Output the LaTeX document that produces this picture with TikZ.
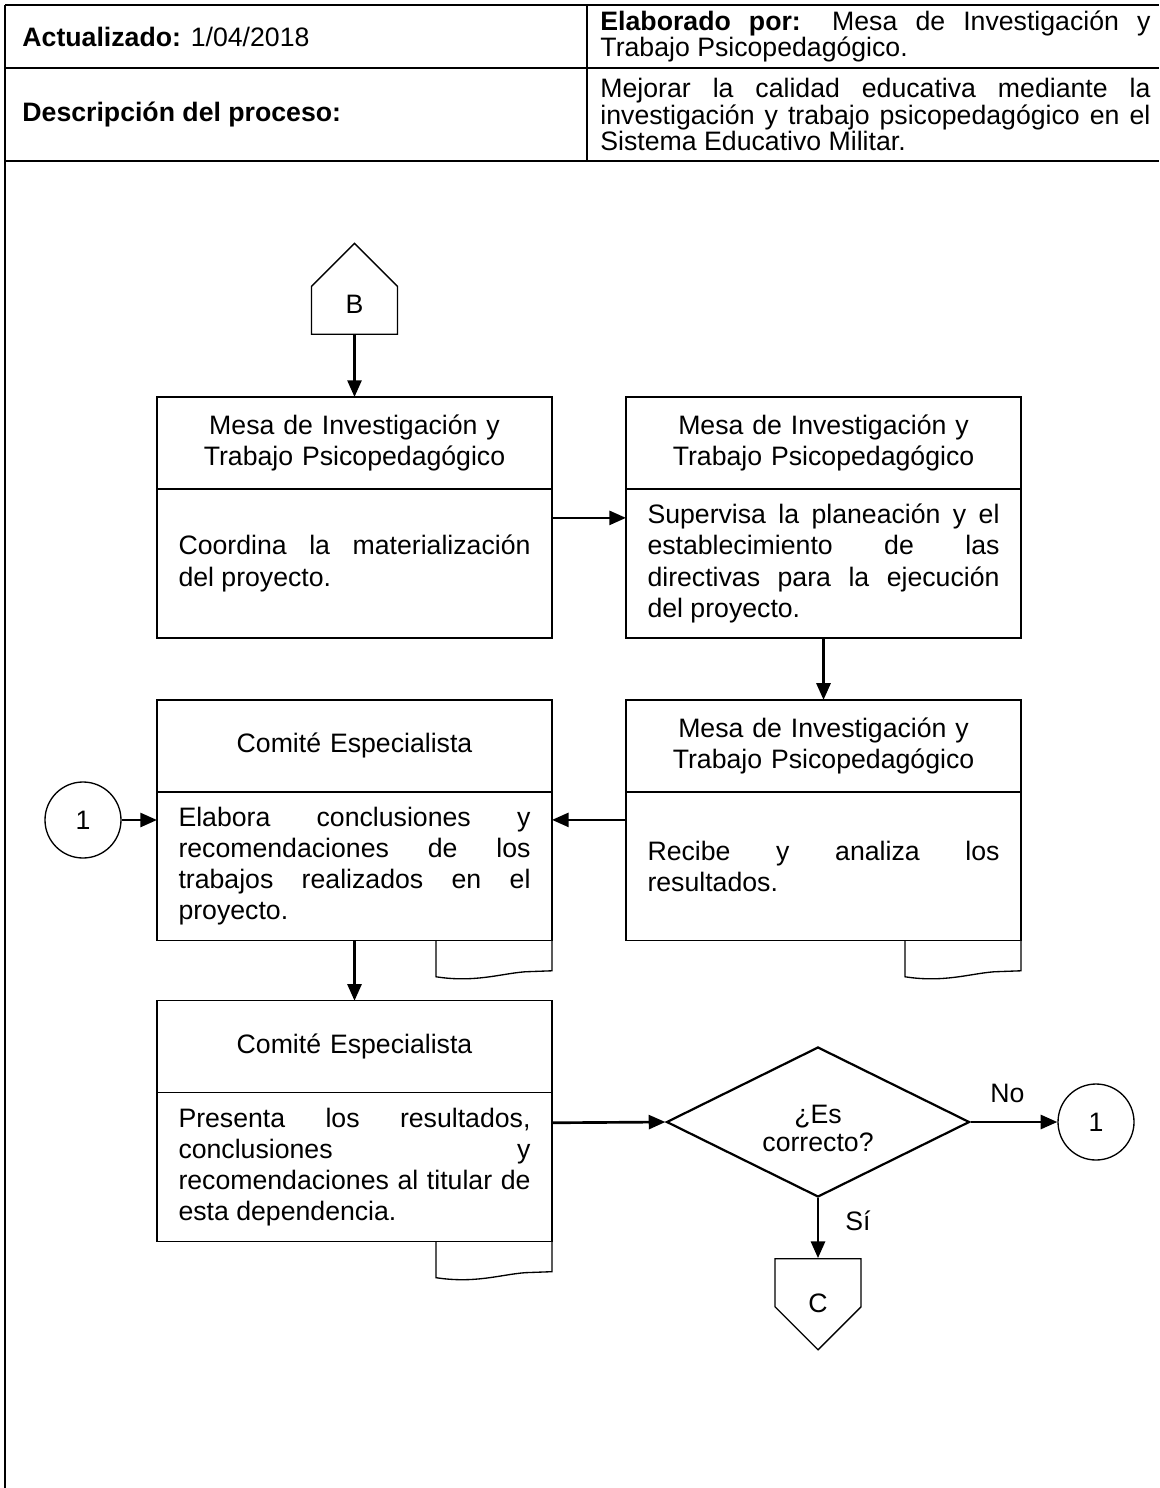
\documentclass[tikz,border=0pt]{standalone}
\usepackage{fontspec}
\setmainfont{Liberation Sans}
\usetikzlibrary{shapes.geometric, shapes.symbols, arrows.meta, positioning, calc}
\hbadness=10000

\begin{document}
\begin{tikzpicture}[x=0.45pt, y=-0.45pt, node distance=27.9pt,
  frame/.style={line width=0.6pt},
  cell/.style={anchor=west, inner sep=0pt, text width=247.5pt, align=justify, font=\fontsize{12}{12}\selectfont},
  hdr/.style={rectangle, draw, line width=0.6pt, outer sep=0pt, minimum width=177.75pt, text width=158.4pt, minimum height=41.4pt, align=center, font=\fontsize{12}{14}\selectfont},
  body/.style={hdr, minimum height=67pt, align=justify},
  conn/.style={circle, draw, line width=0.6pt, minimum size=34.2pt, inner sep=0pt, font=\fontsize{12}{14}\selectfont},
  decision/.style={diamond, aspect=2, draw, line width=1pt, minimum width=136.35pt, minimum height=67.5pt, inner sep=0pt, align=center, font=\fontsize{12}{12.5}\selectfont},
  offpage/.style={signal, draw, line width=0.6pt, signal pointer angle=90, minimum width=38.7pt, minimum height=21.6pt, inner sep=0pt},
  arr/.style={-{Triangle[length=7.5pt, width=6.3pt]}, line width=1.2pt},
  lbl/.style={inner sep=0pt, font=\fontsize{12}{14}\selectfont}
]
\useasboundingbox (0,0) rectangle (1159,1488);
% Header table
\draw[frame] (5,5) -- (1159,5);
\draw[frame] (5,68) -- (1159,68);
\draw[frame] (5,161) -- (1159,161);
\draw[frame] (5,5) -- (5,1488);
\draw[frame] (587,5) -- (587,161);
\node[cell, text width=500pt] (upd) at (22,36.5) {\textbf{Actualizado:} 1/04/2018};
\node[cell, text width=500pt] (desc) at (22,114.5) {\textbf{Descripción del proceso:}};
\node[cell] (elab) at (600,36.5) {\textbf{Elaborado por:} Mesa de Investigación y\linebreak Trabajo Psicopedagógico.};
\node[cell] (obj) at (600,114.5) {Mejorar la calidad educativa mediante la\linebreak investigación y trabajo psicopedagógico en el\linebreak Sistema Educativo Militar.};
% Process boxes
\node[hdr] (h1) at (354.5,443) {Mesa de Investigación y\\Trabajo Psicopedagógico};
\node[body, below=0pt of h1] (b1) {Coordina la materialización\linebreak del proyecto.};
\node[hdr, right=33.3pt of h1] (h2) {Mesa de Investigación y\\Trabajo Psicopedagógico};
\node[body, below=0pt of h2] (b2) {Supervisa la planeación y el\linebreak establecimiento de las\linebreak directivas para la ejecución\linebreak del proyecto.};
\node[hdr, below=of b2] (h3) {Mesa de Investigación y\\Trabajo Psicopedagógico};
\node[body, below=0pt of h3] (b3) {Recibe y analiza los\linebreak resultados.};
\node[hdr, below=of b1] (h4) {Comité Especialista};
\node[body, below=0pt of h4] (b4) {Elabora conclusiones y\linebreak recomendaciones de los\linebreak trabajos realizados en el\linebreak proyecto.};
\node[hdr, below=27pt of b4] (h5) {Comité Especialista};
\node[body, below=0pt of h5] (b5) {Presenta los resultados,\linebreak conclusiones y\linebreak recomendaciones al titular de\linebreak esta dependencia.};
% Document tabs
\foreach \n in {b3,b4,b5}
  \draw[line width=0.6pt] ($(\n.south east)+(-116,0)$) -- ++(0,36)
    .. controls ($(\n.south east)+(-77,42)$) and ($(\n.south east)+(-52,33)$) .. ($(\n.south east)+(-27,31)$)
    -- ($(\n.south east)+(0,30)$) -- (\n.south east);
% Connectors and decision
\node[offpage, signal to=north, above=of h1, label={[lbl, yshift=2.9pt]center:B}] (B) {};
\node[conn] (c1l) at (83,820) {1};
\node[decision] (chk) at (818,1122) {\rule{0pt}{14pt}¿Es\\correcto?};
\node[conn] (c1r) at (1096,1122) {1};
\node[offpage, signal to=south, below=27pt of chk, label={[lbl, yshift=-9.2pt]center:C}] (C) {};
\draw[arr] (B.south) -- (h1.north);
\draw[arr] ([yshift=-13pt]b1.north east) -- ([yshift=-13pt]b2.north west);
\draw[arr] (b2.south) -- (h3.north);
\draw[arr] ([yshift=-12.6pt]b3.north west) -- ([yshift=-12.6pt]b4.north east);
\draw[arr] (c1l.east) -- (c1l.east -| b4.west);
\draw[arr] (b4.south) -- (h5.north);
\draw[arr] ([yshift=-13.5pt]b5.north east) -- (chk.west);
\draw[arr] (chk.east) -- node[lbl, above=8pt, xshift=-3pt] {No} (c1r.west);
\draw[arr] (chk.south) -- node[lbl, pos=0.37, right=11.7pt] {Sí} (C.north);
\end{tikzpicture}
\end{document}
